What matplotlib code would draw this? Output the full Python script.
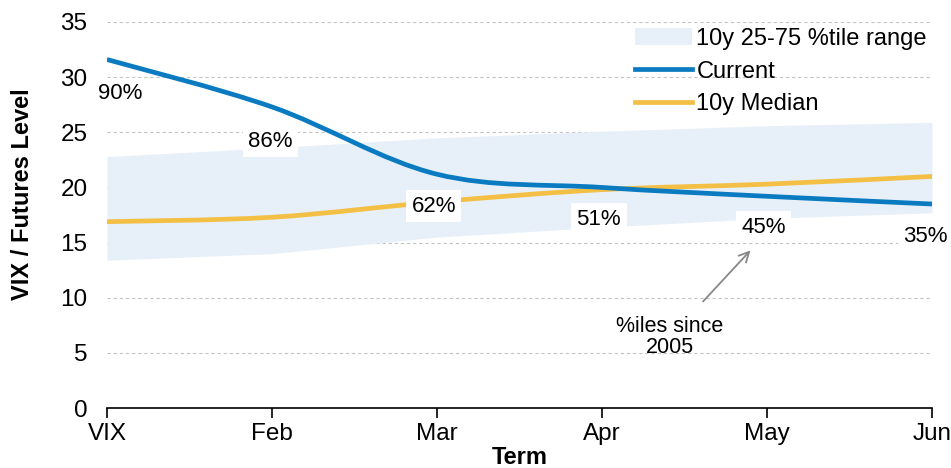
import matplotlib.pyplot as plt
from matplotlib.path import Path
from matplotlib.patches import PathPatch, Patch
from matplotlib.lines import Line2D

plt.rcParams['font.family'] = ['Liberation Sans', 'DejaVu Sans']

terms = ["VIX", "Feb", "Mar", "Apr", "May", "Jun"]
current = [31.6, 27.3, 21.2, 20.0, 19.2, 18.5]
median = [16.9, 17.3, 18.7, 19.8, 20.3, 21.0]
band_low = [13.4, 14.0, 15.5, 16.4, 17.2, 17.7]
band_high = [22.8, 23.6, 24.5, 25.1, 25.6, 25.9]
pct_labels = ["90%", "86%", "62%", "51%", "45%", "35%"]
# label positions (x, y) in data units
pct_pos = [(0.08, 28.5), (0.99, 24.2), (1.98, 18.3), (2.98, 17.1), (3.98, 16.4), (4.96, 15.6)]

BLUE = "#0A7BC0"
YELLOW = "#F3BF45"
BAND = "#E7F0F9"


def smooth_path(xs, ys, t=1/6):
    # excel style smoothed line (cubic bezier through the points)
    n = len(xs)
    verts = [(xs[0], ys[0])]
    codes = [Path.MOVETO]
    for i in range(n - 1):
        i0 = max(i - 1, 0)
        i3 = min(i + 2, n - 1)
        c1 = (xs[i] + (xs[i + 1] - xs[i0]) * t, ys[i] + (ys[i + 1] - ys[i0]) * t)
        c2 = (xs[i + 1] - (xs[i3] - xs[i]) * t, ys[i + 1] - (ys[i3] - ys[i]) * t)
        verts += [c1, c2, (xs[i + 1], ys[i + 1])]
        codes += [Path.CURVE4] * 3
    return Path(verts, codes)


x = list(range(len(terms)))

fig = plt.figure(figsize=(9.51, 4.68), dpi=100)
ax = fig.add_axes([0.1125, 0.128, 0.8675, 0.825])

ax.fill_between(x, band_low, band_high, color=BAND, linewidth=0, zorder=1)
for yy in range(5, 36, 5):
    ax.axhline(yy, color="#C4C4C4", linestyle=(0, (3, 2.5)), linewidth=0.8, zorder=0.5)

ax.add_patch(PathPatch(smooth_path(x, median), facecolor="none", edgecolor=YELLOW,
                       linewidth=3.4, capstyle="butt", zorder=3))
ax.add_patch(PathPatch(smooth_path(x, current), facecolor="none", edgecolor=BLUE,
                       linewidth=3.4, capstyle="butt", zorder=4))

for lab, (px, py) in zip(pct_labels, pct_pos):
    ax.text(px, py, lab, ha="center", va="center", fontsize=16, zorder=6,
            bbox=dict(facecolor="white", edgecolor="none", pad=4))

ax.annotate("%iles since\n2005", xy=(3.9, 14.3), xytext=(3.41, 6.4),
            ha="center", va="center", fontsize=15.5, linespacing=1.0, zorder=6,
            arrowprops=dict(arrowstyle="->", color="#888888", lw=1.3,
                            shrinkA=12, shrinkB=0, mutation_scale=18))

ax.set_xlim(0, 5)
ax.set_ylim(0, 35)
ax.set_xticks(x)
ax.set_xticklabels(terms)
ax.set_yticks(range(0, 36, 5))
for s in ["top", "right", "left"]:
    ax.spines[s].set_visible(False)
ax.spines["bottom"].set_linewidth(1.2)
ax.spines["bottom"].set_zorder(5)
ax.tick_params(axis="x", direction="out", length=7, width=1.2, labelsize=17.5, pad=4)
ax.tick_params(axis="y", length=0, labelsize=17.5, pad=14)
ax.set_xlabel("Term", fontsize=17, fontweight="bold", va="center")
ax.xaxis.set_label_coords(0.5, -0.129)
ax.set_ylabel("VIX / Futures Level", fontsize=17, fontweight="bold", va="center")
ax.yaxis.set_label_coords(-0.103, 0.554)

handles = [Patch(facecolor=BAND, edgecolor="none"),
           Line2D([], [], color=BLUE, lw=3.4),
           Line2D([], [], color=YELLOW, lw=3.4)]
leg = fig.legend(handles, ["10y 25-75 %tile range", "Current", "10y Median"],
                 loc="upper left", bbox_to_anchor=(635 / 951, 1 - 28 / 468),
                 frameon=False, fontsize=17, handlelength=2.4, handletextpad=0.2,
                 labelspacing=0.45, borderaxespad=0, borderpad=0)

fig.savefig("out.png", dpi=100)
